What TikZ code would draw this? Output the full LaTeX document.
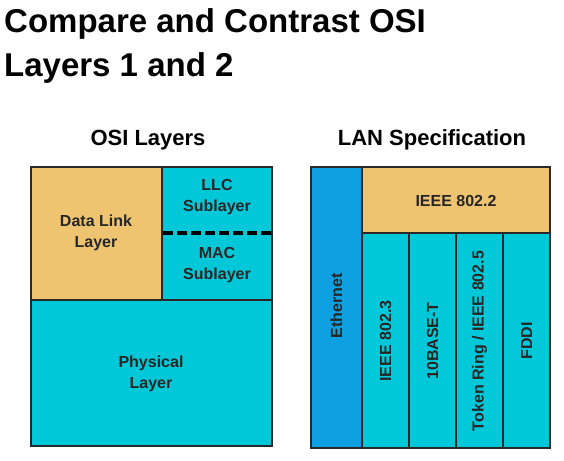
\documentclass[tikz,border=0pt]{standalone}
\usepackage{fontspec}
\setmainfont{Liberation Sans}
\definecolor{tan}{RGB}{238,196,112}
\definecolor{cyanfill}{RGB}{0,200,216}
\definecolor{bluefill}{RGB}{14,160,224}
\definecolor{edge}{RGB}{40,40,40}
\begin{document}
\begin{tikzpicture}[x=1pt,y=-1pt,
  cell/.style={draw=edge,line width=1.3pt},
  lbl/.style={font=\fontsize{16}{21}\selectfont\bfseries,align=center,text=black!85},
  vlbl/.style={font=\fontsize{16}{21}\selectfont\bfseries,rotate=90,text=black!85},
  hdr/.style={font=\fontsize{22}{26}\selectfont\bfseries,anchor=base},
  ttl/.style={font=\fontsize{33}{43}\selectfont\bfseries,anchor=base west}]
\useasboundingbox[fill=white] (0,0) rectangle (564,460);
% title
\node[ttl,inner sep=0] (t1) at (4,33) {Compare and Contrast OSI};
\node[ttl,inner sep=0] (t2) at (4,76) {Layers 1 and 2};
% headers
\node[hdr,inner sep=0] (h1) at (148,145) {OSI Layers};
\node[hdr,inner sep=0] (h2) at (432,145) {LAN Specification};
% left block
\fill[tan] (31,167) rectangle (162,300);
\fill[cyanfill] (162,167) rectangle (272,300);
\fill[cyanfill] (31,300) rectangle (272,446);
\draw[cell] (31,167) rectangle (272,446);
\draw[cell] (162,167) -- (162,300);
\draw[cell] (31,300) -- (272,300);
\draw[line width=3.5pt,dash pattern=on 9.5pt off 4.5pt,black] (163,233) -- (272,233);
\node[lbl] (dl) at (96,233) {Data Link\\Layer};
\node[lbl] (llc) at (217,197) {LLC\\Sublayer};
\node[lbl] (mac) at (217,265) {MAC\\Sublayer};
\node[lbl] (phy) at (151,374) {Physical\\Layer};
% right block
\fill[bluefill] (311,167) rectangle (362,448);
\fill[tan] (362,167) rectangle (550,233);
\fill[cyanfill] (362,233) rectangle (550,448);
\draw[cell] (311,167) rectangle (550,448);
\draw[cell] (362,167) -- (362,448);
\draw[cell] (362,233) -- (550,233);
\draw[cell] (409,233) -- (409,448);
\draw[cell] (456,233) -- (456,448);
\draw[cell] (503,233) -- (503,448);
\node[lbl] (i2) at (456,201) {IEEE 802.2};
\node[vlbl] (eth) at (336.5,306) {Ethernet};
\node[vlbl] (i3) at (385.5,341) {IEEE 802.3};
\node[vlbl] (tb) at (432.5,341) {10BASE-T};
\node[vlbl] (tr) at (479.5,341) {Token Ring / IEEE 802.5};
\node[vlbl] (fd) at (526.5,341) {FDDI};
\end{tikzpicture}
\end{document}
